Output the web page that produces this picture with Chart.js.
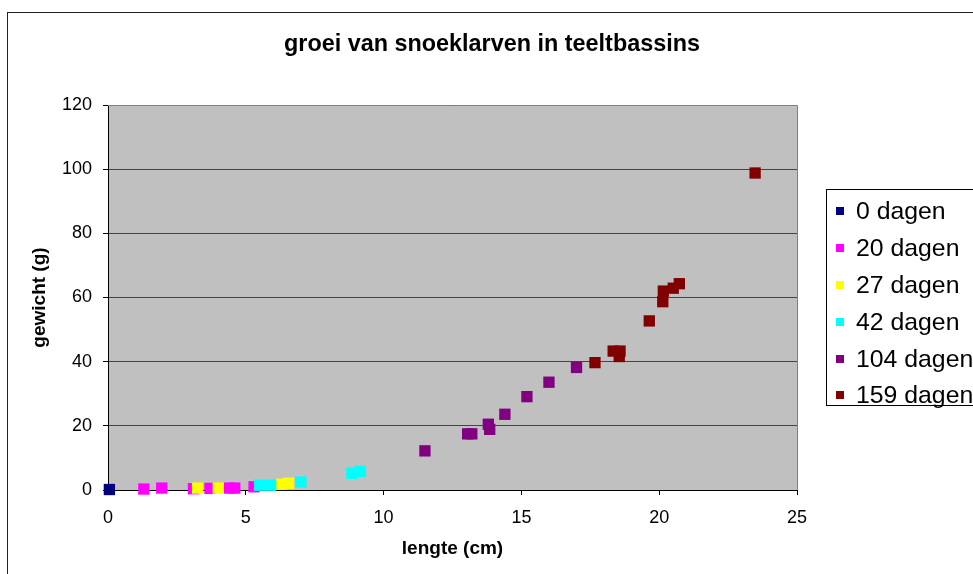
<!DOCTYPE html>
<html>
<head>
<meta charset="utf-8">
<script src="https://cdn.jsdelivr.net/npm/chart.js@4"></script>
<style>
  html,body{margin:0;padding:0;background:#fff;overflow:hidden;}
  #wrap{position:relative;width:973px;height:574px;overflow:hidden;}
  #frame{position:absolute;left:7px;top:12px;width:1200px;height:800px;border-left:1px solid #222;border-top:1px solid #222;}
  #title{position:absolute;left:492px;top:32px;transform:translateX(-50%);white-space:nowrap;
    font:bold 23.4px 'Liberation Sans',Arial,sans-serif;line-height:23px;color:#000;}
  #legend{position:absolute;left:826px;top:189px;width:220px;height:217px;box-sizing:border-box;
    border:1px solid #000;background:#fff;padding-top:3px;}
  .item{display:flex;align-items:center;height:36.8px;font:24.8px 'Liberation Sans',Arial,sans-serif;white-space:nowrap;}
  .item i{display:inline-block;width:8px;height:8px;margin-left:9px;margin-right:12px;}
  canvas{position:absolute;left:0;top:0;}
</style>
</head>
<body>
<div id="wrap">
  <div id="frame"></div>
  <canvas id="chart" width="973" height="574"></canvas>
  <div id="title">groei van snoeklarven in teeltbassins</div>
  <div id="legend"></div>
</div>
<script>
// series (lengte in cm, gewicht in g)
const seriesNames = ['0 dagen','20 dagen','27 dagen','42 dagen','104 dagen','159 dagen'];
const seriesColors = ['#000080','#FF00FF','#FFFF00','#00FFFF','#800080','#800000'];

const lengte0 = [0.05];
const gewicht0 = [0.15];
const lengte20 = [1.3, 1.95, 3.1, 3.7, 4.4, 4.6, 5.3];
const gewicht20 = [0.3, 0.6, 0.4, 0.5, 0.6, 0.6, 1.0];
const lengte27 = [3.25, 4.0, 6.3, 6.55];
const gewicht27 = [0.6, 0.6, 1.8, 2.1];
const lengte42 = [5.5, 5.9, 7.0, 8.85, 9.15];
const gewicht42 = [1.5, 1.5, 2.5, 5.2, 5.8];
const lengte104 = [11.5, 13.05, 13.2, 13.8, 13.85, 14.4, 15.2, 16.0, 17.0];
const gewicht104 = [12.2, 17.5, 17.5, 20.5, 18.9, 23.6, 29.1, 33.6, 38.2];
const lengte159 = [17.67, 18.33, 18.58, 18.55, 19.64, 20.13, 20.15, 20.51, 20.73, 23.48];
const gewicht159 = [39.7, 43.3, 43.3, 41.6, 52.7, 58.7, 62.0, 62.9, 64.3, 98.8];

const xTicks = [0, 5, 10, 15, 20, 25];
const yTicks = [0, 20, 40, 60, 80, 100, 120];

const allX = [lengte0, lengte20, lengte27, lengte42, lengte104, lengte159];
const allY = [gewicht0, gewicht20, gewicht27, gewicht42, gewicht104, gewicht159];

const FONT = "'Liberation Sans', Arial, sans-serif";

const datasets = seriesNames.map((name, i)=>({
  label: name,
  data: allX[i].map((x, j)=>({x, y: allY[i][j]})),
  backgroundColor: seriesColors[i],
  borderColor: seriesColors[i],
  borderWidth: 0,
  pointStyle: 'rect',
  pointRadius: 8,
  pointHoverRadius: 8,
  clip: false,
  order: seriesNames.length - i
}));

// html legend
const legend = document.getElementById('legend');
seriesNames.forEach((name, i)=>{
  const row = document.createElement('div');
  row.className = 'item';
  row.innerHTML = `<i style="background:${seriesColors[i]}"></i><span>${name}</span>`;
  legend.appendChild(row);
});

const plotBg = {
  id: 'plotBg',
  beforeDraw(chart){
    const {ctx, chartArea: a} = chart;
    ctx.save();
    ctx.fillStyle = '#C0C0C0';
    ctx.fillRect(a.left, a.top, a.right - a.left, a.bottom - a.top);
    ctx.restore();
  },
  beforeDatasetsDraw(chart){
    const {ctx, chartArea: a} = chart;
    ctx.save();
    ctx.strokeStyle = '#808080';
    ctx.lineWidth = 1;
    ctx.beginPath();
    ctx.moveTo(a.left, a.top + 0.5); ctx.lineTo(a.right + 0.5, a.top + 0.5);
    ctx.lineTo(a.right + 0.5, a.bottom);
    ctx.stroke();
    ctx.restore();
  }
};

new Chart(document.getElementById('chart'), {
  type: 'scatter',
  data: { datasets },
  options: {
    responsive: false,
    animation: false,
    devicePixelRatio: 1,
    layout: { padding: { top: 105, right: 176, left: 0, bottom: 0 } },
    plugins: { legend: { display: false }, title: { display: false }, tooltip: { enabled: false } },
    scales: {
      x: {
        type: 'linear', min: 0, max: 25,
        afterBuildTicks: s => { s.ticks = xTicks.map(v=>({value: v})); },
        afterFit: s => { s.height = 84; },
        grid: { color: 'transparent', tickColor: '#000', tickLength: 5, drawTicks: true },
        border: { color: '#000', width: 1 },
        ticks: { color: '#000', font: { family: FONT, size: 18 }, padding: 12, maxRotation: 0 },
        title: { display: true, text: 'lengte (cm)', color: '#000', font: { family: FONT, size: 19, weight: 'bold' }, padding: { top: 14, bottom: 14 } }
      },
      y: {
        type: 'linear', min: 0, max: 120,
        afterBuildTicks: s => { s.ticks = yTicks.map(v=>({value: v})); },
        afterFit: s => { s.width = 108; },
        grid: { color: '#444', tickColor: '#000', tickLength: 5, lineWidth: 1 },
        border: { color: '#000', width: 1 },
        ticks: { color: '#000', font: { family: FONT, size: 18 }, padding: 11 },
        title: { display: true, text: 'gewicht (g)', color: '#000', font: { family: FONT, size: 19, weight: 'bold' }, padding: { top: 28, bottom: 28 } }
      }
    }
  },
  plugins: [plotBg]
});
</script>
</body>
</html>
